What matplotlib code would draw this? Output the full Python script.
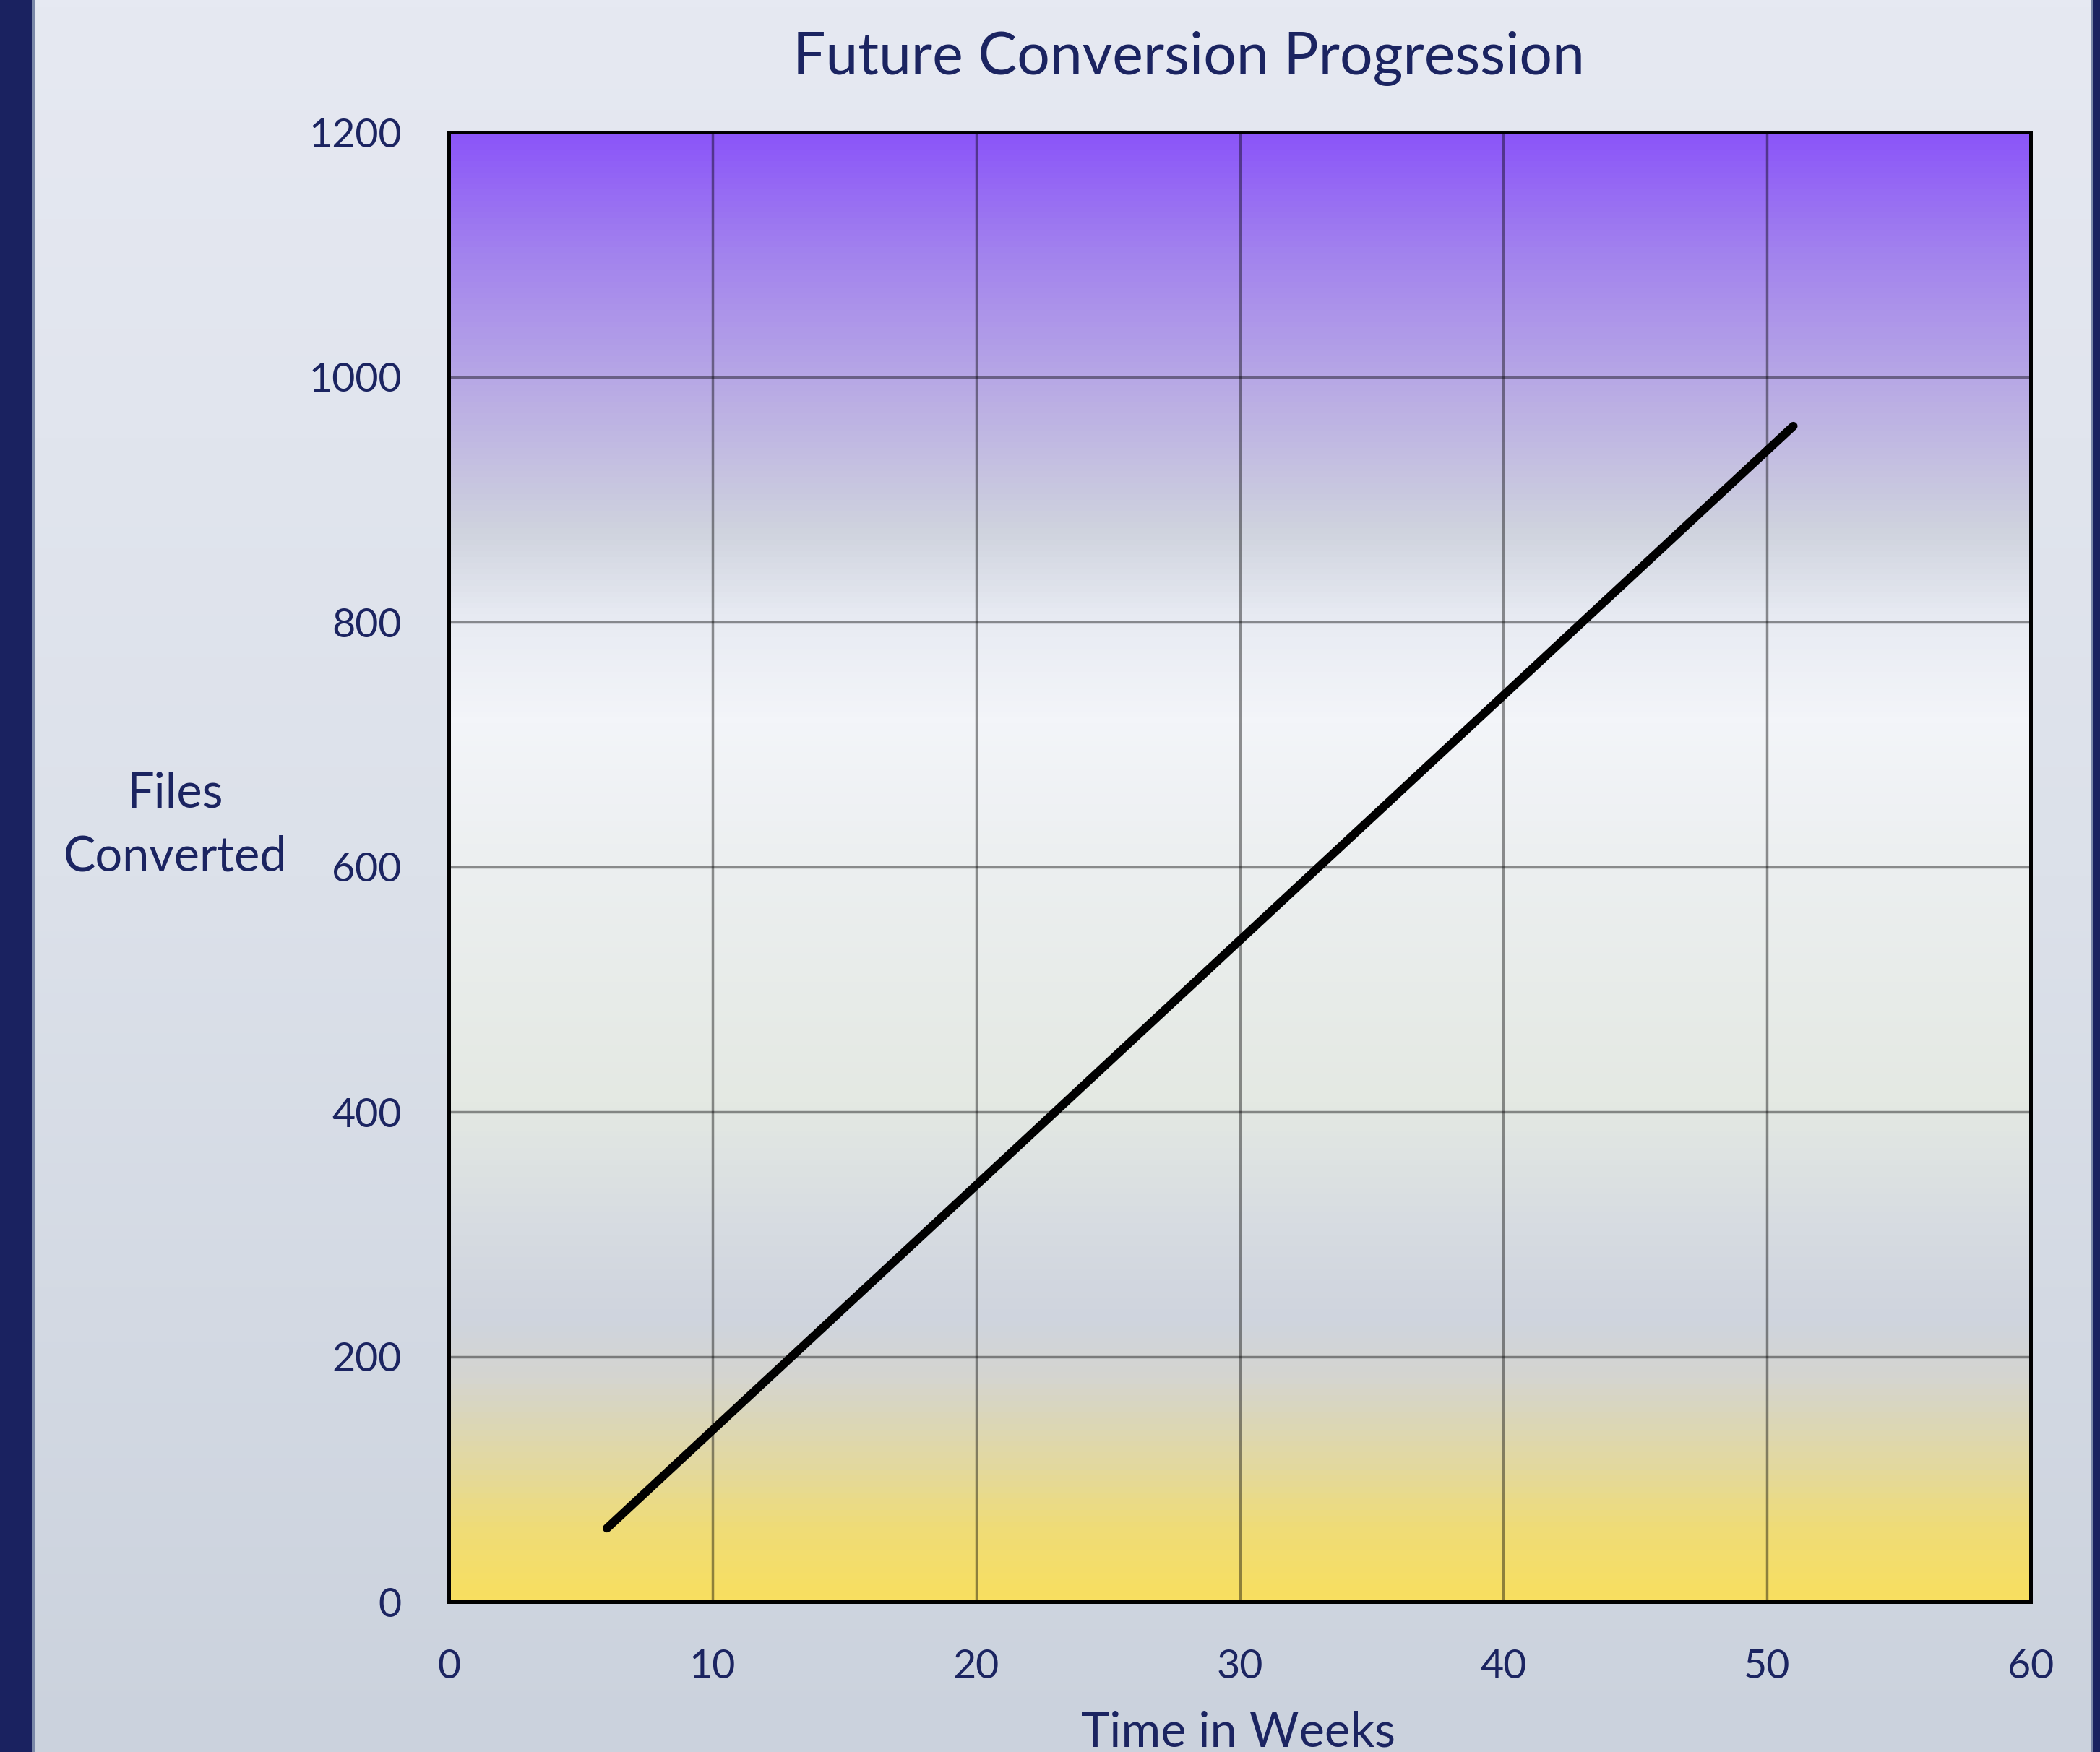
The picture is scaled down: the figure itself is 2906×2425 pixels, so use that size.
import numpy as np
import matplotlib
matplotlib.use("Agg")
import matplotlib.pyplot as plt
from matplotlib.colors import LinearSegmentedColormap
from matplotlib.patches import Rectangle

# ---- data ----
weeks = [6, 51]
files_converted = [60, 960]
x_ticks = [0, 10, 20, 30, 40, 50, 60]
y_ticks = [0, 200, 400, 600, 800, 1000, 1200]

title = "Future Conversion Progression"
x_label = "Time in Weeks"
y_label_lines = ["Files", "Converted"]

W, H = 2906, 2425
DPI = 100
NAVY = "#1b2461"
FONT = ["Lato", "DejaVu Sans"]

plt.rcParams["font.family"] = FONT

fig = plt.figure(figsize=(W / DPI, H / DPI), dpi=DPI)

# page background gradient
bg = fig.add_axes([0, 0, 1, 1], zorder=-10)
bg_cmap = LinearSegmentedColormap.from_list("bg", ["#cbd2dd", "#dce1ea", "#e6e9f2"])
bg.imshow(np.linspace(0, 1, 256).reshape(-1, 1), cmap=bg_cmap, aspect="auto",
          extent=[0, 1, 0, 1], origin="lower")
bg.set_xlim(0, 1)
bg.set_ylim(0, 1)
bg.axis("off")
# side bars
bg.add_patch(Rectangle((0, 0), 44 / W, 1, color="#1a2260", lw=0))
bg.add_patch(Rectangle((44 / W, 0), 4 / W, 1, color="#7a88a8", lw=0))
bg.add_patch(Rectangle((2897 / W, 0), 9 / W, 1, color="#1a2260", lw=0))
bg.add_patch(Rectangle((2894 / W, 0), 3 / W, 1, color="#7a88a8", lw=0))

# plot area
left, right, top, bottom = 621, 2810, 183, 2217
ax = fig.add_axes([left / W, 1 - bottom / H, (right - left) / W, (bottom - top) / H])

plot_cmap = LinearSegmentedColormap.from_list("area", [
    (0.00, "#f8df60"),
    (0.05, "#efdc78"),
    (0.09, "#e3d99e"),
    (0.15, "#d5d5cf"),
    (0.19, "#cfd4de"),
    (0.25, "#d6dbe1"),
    (0.34, "#e4e9e3"),
    (0.50, "#eceff0"),
    (0.60, "#f3f5f9"),
    (0.67, "#e8ebf3"),
    (0.73, "#cfd3de"),
    (0.83, "#b8a9e5"),
    (0.92, "#a282ee"),
    (1.00, "#8b55f9"),
])
ax.imshow(np.linspace(0, 1, 512).reshape(-1, 1), cmap=plot_cmap, aspect="auto",
          extent=[x_ticks[0], x_ticks[-1], y_ticks[0], y_ticks[-1]], origin="lower",
          zorder=0)

ax.set_xlim(x_ticks[0], x_ticks[-1])
ax.set_ylim(y_ticks[0], y_ticks[-1])
ax.set_xticks(x_ticks)
ax.set_yticks(y_ticks)
ax.grid(True, color="#000000", alpha=0.42, lw=2.5, zorder=1)
ax.set_axisbelow(False)

ax.plot(weeks, files_converted, color="black", lw=8.5, solid_capstyle="round", zorder=3)

ax.tick_params(length=0, pad=47, labelsize=40, labelcolor=NAVY)
for s in ax.spines.values():
    s.set_color("black")
    s.set_linewidth(3.6)
    s.set_zorder(4)

# texts
fig.text(1645 / W, 1 - 103 / H, title, ha="center", va="baseline",
         fontsize=58, color=NAVY)
fig.text(1714 / W, 1 - 2418 / H, x_label, ha="center", va="baseline",
         fontsize=48, color=NAVY)
fig.text(243 / W, 1 - 1117 / H, y_label_lines[0], ha="center", va="baseline",
         fontsize=48, color=NAVY)
fig.text(243 / W, 1 - 1205 / H, y_label_lines[1], ha="center", va="baseline",
         fontsize=48, color=NAVY)

fig.savefig("out.png", dpi=DPI)
